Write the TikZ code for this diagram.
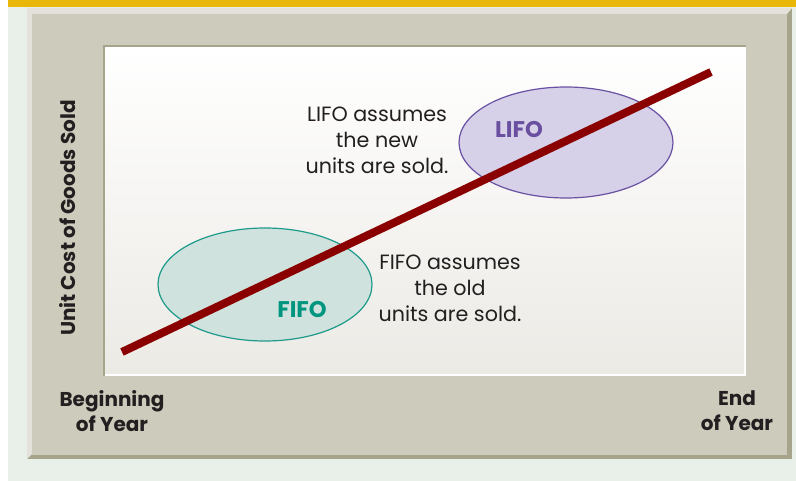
\documentclass[tikz,border=0pt]{standalone}
\usepackage{fontspec}
\setmainfont{Poppins}
\usetikzlibrary{shapes.geometric}
\definecolor{bggreen}{HTML}{E9F0E9}
\definecolor{topbar}{HTML}{E8B707}
\definecolor{frame}{HTML}{CDCBBB}
\definecolor{framelight}{HTML}{E3E1D9}
\definecolor{framedark}{HTML}{A6A48B}
\definecolor{plotbot}{HTML}{ECEAE5}
\definecolor{costline}{HTML}{8A0000}
\definecolor{lifofill}{HTML}{D6D0E8}
\definecolor{lifodraw}{HTML}{6A52A3}
\definecolor{lifotext}{HTML}{6A4FA0}
\definecolor{fifofill}{HTML}{CFE2DE}
\definecolor{fifodraw}{HTML}{1E9A8A}
\definecolor{fifotext}{HTML}{00957F}
\definecolor{ink}{HTML}{231F20}
\tikzset{
  bodytext/.style={font=\fontsize{15.5}{19.5}\selectfont, text=ink, align=center, inner sep=0pt},
  axistext/.style={font=\fontsize{15}{19}\selectfont\bfseries, text=ink, align=center, inner sep=0pt},
  tagtext/.style={font=\fontsize{17}{20}\selectfont\bfseries, inner sep=0pt},
}
\begin{document}
\begin{tikzpicture}[x=0.75pt,y=-0.75pt]
\useasboundingbox (0,0) rectangle (796,481);
\fill[white] (0,0) rectangle (796,481);
\fill[bggreen] (8,7) rectangle (796,481);
\fill[topbar] (8,0) rectangle (796,7);
% frame with bevels
\fill[framedark] (27,8) rectangle (792,459);
\fill[framelight] (27,8) -- (792,8) -- (787,14) -- (32,14) -- (32,454) -- (27,459) -- cycle;
\fill[frame] (32,14) rectangle (787,455);
% plot area
\fill[framedark] (103,45) rectangle (746,376);
\fill[white] (105,47) rectangle (746,376);
\shade[top color=white, bottom color=plotbot] (105,48) rectangle (744,373);
% ellipses
\node[ellipse, draw=lifodraw, fill=lifofill, line width=0.9pt, minimum width=214*0.75pt, minimum height=111*0.75pt, inner sep=0pt] (lifo) at (566,142.5) {};
\node[ellipse, draw=fifodraw, fill=fifofill, line width=0.9pt, minimum width=214*0.75pt, minimum height=113*0.75pt, inner sep=0pt] (fifo) at (265,284.5) {};
% cost line
\coordinate (start) at (122,352);
\coordinate (finish) at (711,72);
\draw[costline, line width=6pt] (start) -- (finish);
% labels
\node[tagtext, text=lifotext] (lifolbl) at (519,130) {LIFO};
\node[tagtext, text=fifotext] (fifolbl) at (302,310) {FIFO};
\node[bodytext] (lifonote) at (377,140) {LIFO assumes\\the new\\units are sold.};
\node[bodytext] (fifonote) at (450,288) {FIFO assumes\\the old\\units are sold.};
\node[axistext, rotate=90] (ylabel) at (68,218) {Unit Cost of Goods Sold};
\node[axistext] (begin) at (112,411) {Beginning\\of Year};
\node[axistext] (end) at (737,411) {End\\of Year};
\end{tikzpicture}
\end{document}
